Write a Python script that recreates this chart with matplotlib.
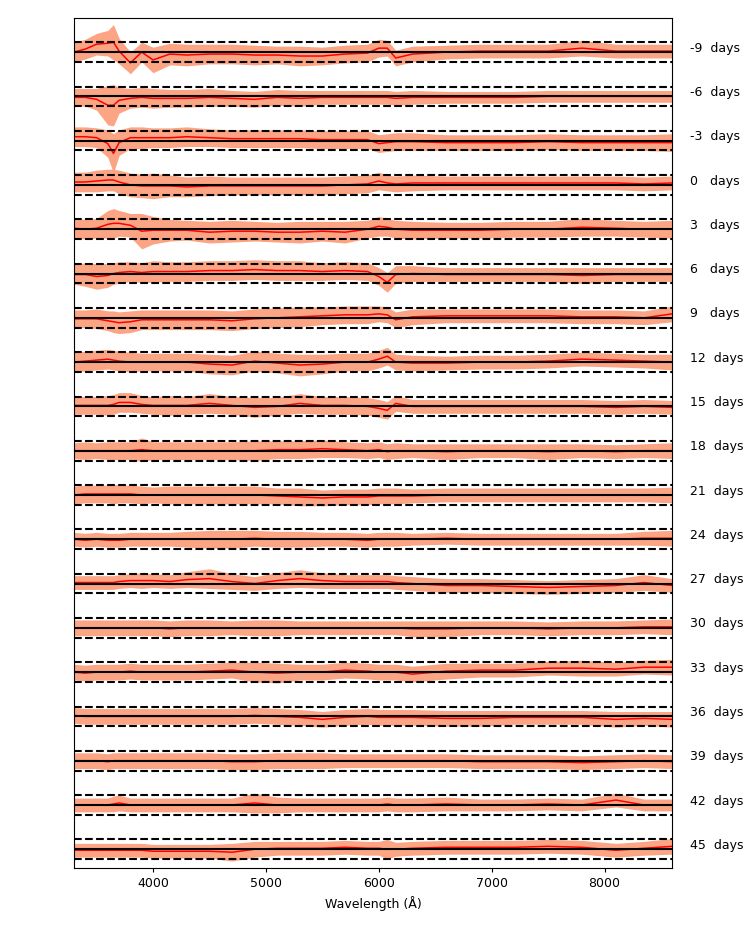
import numpy as np
import matplotlib
matplotlib.use("Agg")
import matplotlib.pyplot as plt

# wavelength grid (Angstrom) shared by every epoch
wave = [3300, 3400, 3500, 3600, 3650, 3700, 3800, 3900, 4000, 4150, 4300,
        4500, 4700, 4900, 5100, 5300, 5500, 5700, 5900, 6000, 6075, 6150,
        6300, 6600, 6900, 7200, 7500, 7800, 8100, 8350, 8600]

phases = [-9, -6, -3, 0, 3, 6, 9, 12, 15, 18, 21, 24, 27, 30, 33, 36, 39, 42, 45]

# residual (red line), in units of the dashed +/-1 band
resid = [
    [0.0, 0.3, 0.8, 0.9, 1.0, 0.1, -1.1, 0.0, -0.8, -0.2, -0.3, -0.2, -0.2, -0.3, -0.3, -0.4, -0.4, -0.2, -0.1, 0.4, 0.4, -0.6, -0.2, 0.0, 0.1, 0.1, 0.1, 0.4, 0.1, 0.1, 0.1],
    [-0.1, -0.1, -0.3, -0.9, -0.9, -0.4, -0.2, -0.1, -0.2, -0.2, -0.2, -0.1, -0.2, -0.3, -0.1, -0.2, -0.1, -0.1, -0.1, -0.1, -0.1, -0.2, -0.1, -0.1, -0.1, -0.1, 0.0, 0.0, 0.0, 0.0, 0.0],
    [0.4, 0.4, 0.3, -0.3, -1.3, -0.2, 0.3, 0.3, 0.3, 0.3, 0.4, 0.3, 0.2, 0.2, 0.2, 0.2, 0.1, 0.1, 0.1, -0.3, -0.2, -0.1, -0.1, -0.2, -0.2, -0.2, -0.1, -0.2, -0.2, -0.2, -0.2],
    [0.3, 0.3, 0.4, 0.5, 0.5, 0.3, 0.0, -0.1, -0.1, -0.1, -0.2, -0.1, -0.1, -0.1, -0.1, -0.1, -0.1, 0.0, 0.1, 0.4, 0.2, 0.1, 0.2, 0.2, 0.2, 0.2, 0.2, 0.2, 0.2, 0.1, 0.2],
    [0.1, 0.0, 0.1, 0.5, 0.6, 0.6, 0.4, -0.2, -0.1, -0.1, -0.1, -0.3, -0.2, -0.2, -0.3, -0.3, -0.2, -0.3, 0.0, 0.3, 0.2, 0.0, -0.1, -0.1, -0.1, 0.0, 0.0, 0.2, 0.1, 0.0, 0.0],
    [-0.1, -0.1, -0.3, -0.2, 0.0, 0.1, 0.2, 0.1, 0.2, 0.2, 0.2, 0.3, 0.3, 0.4, 0.3, 0.3, 0.2, 0.3, 0.2, -0.3, -0.9, -0.1, 0.0, -0.1, -0.1, -0.1, -0.1, -0.2, -0.1, -0.1, -0.1],
    [-0.1, -0.1, -0.1, -0.3, -0.4, -0.5, -0.4, -0.2, -0.2, -0.2, -0.2, -0.2, -0.3, -0.1, 0.0, 0.1, 0.2, 0.3, 0.3, 0.4, 0.3, -0.2, 0.1, 0.2, 0.2, 0.2, 0.2, 0.1, 0.1, 0.0, 0.4],
    [0.0, 0.1, 0.2, 0.3, 0.2, 0.1, 0.0, 0.0, 0.0, 0.0, 0.0, -0.2, -0.3, 0.1, -0.1, -0.3, -0.2, 0.0, 0.0, 0.3, 0.6, 0.0, -0.1, -0.1, 0.0, 0.0, 0.1, 0.3, 0.2, 0.1, 0.0],
    [0.1, 0.1, 0.1, 0.1, 0.2, 0.4, 0.4, 0.2, 0.1, 0.1, 0.1, 0.3, 0.1, -0.1, 0.0, 0.3, 0.1, 0.1, 0.0, -0.2, -0.4, 0.3, 0.0, 0.0, 0.0, 0.0, 0.0, 0.0, -0.1, 0.0, -0.1],
    [0.0, 0.0, 0.0, 0.0, 0.0, 0.0, 0.0, 0.1, 0.0, 0.0, 0.0, 0.0, 0.0, 0.0, 0.1, 0.1, 0.2, 0.1, 0.0, 0.1, -0.1, 0.0, 0.0, -0.1, 0.0, 0.0, -0.1, 0.0, -0.1, 0.0, 0.0],
    [0.0, 0.1, 0.1, 0.1, 0.1, 0.1, 0.1, 0.0, 0.0, 0.0, 0.0, 0.0, 0.0, 0.0, -0.1, -0.2, -0.3, -0.2, -0.2, -0.1, -0.1, -0.1, -0.1, 0.0, 0.0, 0.0, 0.0, 0.0, 0.0, 0.0, 0.0],
    [0.0, -0.1, 0.0, -0.1, -0.1, -0.1, 0.0, 0.0, 0.0, 0.0, 0.0, 0.0, 0.0, 0.1, 0.0, 0.0, 0.0, 0.0, -0.1, 0.0, 0.0, 0.0, 0.0, 0.1, 0.0, 0.0, 0.0, 0.0, 0.0, 0.1, 0.1],
    [0.1, 0.1, 0.1, 0.1, 0.1, 0.2, 0.3, 0.3, 0.3, 0.2, 0.4, 0.5, 0.2, 0.0, 0.3, 0.5, 0.3, 0.2, 0.2, 0.2, 0.2, 0.1, 0.0, -0.2, -0.2, -0.3, -0.4, -0.3, -0.2, 0.1, -0.2],
    [0.0, 0.0, 0.0, 0.0, 0.0, 0.0, 0.0, 0.0, 0.0, -0.1, 0.0, 0.0, 0.0, 0.0, 0.0, 0.0, 0.0, 0.0, 0.0, 0.0, 0.0, 0.0, -0.1, -0.1, 0.0, 0.0, -0.1, 0.0, 0.0, 0.1, 0.1],
    [0.0, -0.1, 0.0, 0.0, 0.0, 0.0, 0.1, 0.0, 0.0, 0.0, 0.0, 0.1, 0.2, 0.0, -0.1, 0.0, 0.0, 0.2, 0.1, 0.0, 0.0, 0.0, -0.2, 0.1, 0.2, 0.2, 0.4, 0.4, 0.3, 0.5, 0.5],
    [0.1, 0.0, 0.0, 0.0, 0.0, 0.0, 0.0, 0.0, 0.0, 0.0, 0.0, 0.0, 0.0, 0.1, 0.0, -0.1, -0.3, -0.1, 0.0, -0.1, -0.1, -0.1, -0.1, -0.2, -0.2, -0.1, -0.1, -0.1, -0.3, -0.2, -0.3],
    [0.0, 0.0, 0.0, -0.1, 0.0, 0.0, 0.0, 0.0, 0.0, 0.0, 0.0, 0.0, -0.1, -0.1, 0.0, 0.0, 0.0, 0.0, 0.0, 0.0, 0.0, 0.0, 0.0, 0.0, -0.1, -0.1, -0.1, -0.2, -0.1, 0.0, -0.1],
    [0.0, 0.0, 0.0, 0.0, 0.1, 0.2, 0.0, 0.0, 0.0, 0.0, 0.0, 0.0, 0.0, 0.2, 0.0, 0.0, 0.0, 0.0, 0.0, 0.0, 0.1, 0.0, 0.0, 0.1, 0.0, 0.0, 0.1, 0.0, 0.5, 0.0, 0.0],
    [-0.1, -0.1, -0.1, -0.1, -0.1, -0.1, -0.1, -0.1, -0.2, -0.2, -0.2, -0.2, -0.3, 0.0, 0.1, 0.1, 0.1, 0.2, 0.1, 0.1, 0.0, 0.0, 0.1, 0.2, 0.2, 0.2, 0.3, 0.2, -0.1, 0.1, 0.3],
]

# half width of the shaded spread around the residual
spread = [
    [1.0, 1.0, 1.1, 1.3, 1.8, 1.3, 1.1, 1.0, 1.3, 1.1, 1.1, 1.0, 1.0, 1.0, 0.9, 1.0, 0.9, 0.9, 0.9, 0.9, 0.8, 0.8, 0.8, 0.7, 0.7, 0.7, 0.7, 0.8, 0.7, 0.7, 0.7],
    [0.9, 0.9, 1.1, 2.0, 2.1, 1.3, 1.0, 1.0, 1.0, 0.9, 0.9, 0.9, 0.8, 0.8, 0.8, 0.8, 0.7, 0.7, 0.7, 0.7, 0.7, 0.7, 0.7, 0.6, 0.6, 0.6, 0.6, 0.6, 0.6, 0.6, 0.6],
    [1.0, 1.0, 1.0, 1.4, 2.0, 1.3, 1.1, 1.1, 1.0, 1.0, 1.0, 0.9, 0.9, 0.9, 0.9, 0.9, 0.9, 0.9, 0.9, 0.9, 0.9, 0.9, 0.9, 0.8, 0.8, 0.8, 0.8, 0.8, 0.8, 0.8, 0.9],
    [1.0, 1.0, 1.1, 1.1, 1.1, 1.2, 1.2, 1.2, 1.3, 1.1, 1.0, 1.0, 0.9, 0.9, 0.9, 0.9, 0.9, 0.9, 0.9, 0.9, 0.8, 0.8, 0.8, 0.7, 0.7, 0.7, 0.7, 0.7, 0.7, 0.7, 0.7],
    [1.0, 1.0, 1.0, 1.4, 1.5, 1.3, 1.2, 1.8, 1.4, 1.1, 1.0, 1.1, 1.1, 1.0, 1.0, 1.1, 1.0, 1.1, 0.9, 1.0, 0.9, 0.9, 0.9, 0.8, 0.8, 0.8, 0.8, 0.9, 0.8, 0.8, 0.9],
    [1.0, 1.2, 1.3, 1.2, 1.1, 1.1, 1.0, 1.0, 1.1, 1.0, 1.0, 1.0, 1.0, 1.0, 1.0, 1.0, 0.9, 0.9, 0.9, 0.9, 1.0, 0.9, 0.8, 0.7, 0.7, 0.7, 0.7, 0.8, 0.7, 0.7, 0.7],
    [0.9, 0.9, 1.0, 1.0, 1.1, 1.1, 1.1, 1.0, 1.0, 1.0, 1.0, 1.0, 1.0, 1.0, 1.0, 1.0, 0.9, 0.9, 0.9, 0.8, 0.8, 0.8, 0.8, 0.7, 0.7, 0.7, 0.7, 0.7, 0.7, 0.7, 0.8],
    [1.0, 1.0, 1.0, 1.0, 1.0, 1.0, 1.0, 0.9, 0.9, 0.9, 0.9, 1.0, 1.0, 1.0, 1.0, 1.1, 1.0, 0.9, 0.9, 0.9, 0.9, 0.8, 0.8, 0.7, 0.7, 0.7, 0.7, 0.7, 0.7, 0.7, 0.8],
    [0.9, 0.9, 0.9, 1.0, 1.0, 1.0, 1.0, 0.9, 0.9, 1.0, 0.9, 1.0, 0.9, 1.0, 0.9, 1.0, 0.9, 0.9, 0.9, 0.9, 0.9, 0.8, 0.7, 0.7, 0.7, 0.7, 0.7, 0.7, 0.7, 0.7, 0.7],
    [0.8, 0.9, 0.8, 0.9, 0.9, 0.9, 0.9, 1.2, 0.9, 0.9, 0.9, 0.9, 0.9, 1.0, 0.9, 0.9, 0.9, 0.8, 0.8, 0.8, 0.8, 0.8, 0.7, 0.8, 0.7, 0.7, 0.8, 0.7, 0.7, 0.7, 0.8],
    [0.9, 0.9, 0.9, 0.9, 1.0, 0.9, 0.9, 0.9, 0.8, 0.9, 0.9, 0.9, 0.9, 0.9, 0.8, 0.9, 0.8, 0.8, 0.8, 0.8, 0.8, 0.8, 0.7, 0.7, 0.7, 0.7, 0.7, 0.7, 0.7, 0.7, 0.8],
    [0.7, 0.7, 0.7, 0.7, 0.7, 0.7, 0.7, 0.7, 0.7, 0.7, 0.8, 0.9, 0.9, 0.8, 0.8, 0.8, 0.7, 0.7, 0.7, 0.7, 0.7, 0.7, 0.6, 0.6, 0.6, 0.6, 0.6, 0.6, 0.6, 0.7, 0.8],
    [0.7, 0.7, 0.7, 0.7, 0.7, 0.7, 0.7, 0.8, 0.7, 0.7, 0.8, 1.0, 0.8, 0.7, 0.8, 0.9, 0.8, 0.7, 0.7, 0.7, 0.7, 0.7, 0.7, 0.7, 0.7, 0.7, 0.7, 0.7, 0.7, 0.8, 0.7],
    [0.8, 0.8, 0.8, 0.8, 0.8, 0.8, 0.8, 0.8, 0.8, 0.8, 0.8, 0.8, 0.7, 0.8, 0.8, 0.7, 0.7, 0.7, 0.7, 0.7, 0.7, 0.7, 0.8, 0.8, 0.7, 0.7, 0.7, 0.7, 0.7, 0.7, 0.8],
    [0.8, 0.8, 0.8, 0.8, 0.8, 0.8, 0.8, 0.8, 0.8, 0.8, 0.8, 0.8, 0.8, 1.0, 1.0, 0.8, 0.8, 0.8, 0.8, 0.8, 0.8, 0.8, 0.8, 0.8, 0.7, 0.7, 0.7, 0.8, 0.7, 0.7, 0.8],
    [0.8, 0.8, 0.8, 0.8, 0.8, 0.8, 0.8, 0.8, 0.8, 0.8, 0.8, 0.8, 0.8, 0.8, 0.8, 0.8, 0.8, 0.8, 0.8, 0.8, 0.8, 0.8, 0.8, 0.8, 0.8, 0.7, 0.7, 0.7, 0.8, 0.7, 0.8],
    [0.8, 0.8, 0.8, 0.8, 0.8, 0.8, 0.8, 0.8, 0.8, 0.8, 0.8, 0.8, 0.8, 0.8, 0.8, 0.8, 0.8, 0.7, 0.7, 0.7, 0.7, 0.7, 0.7, 0.7, 0.7, 0.7, 0.7, 0.7, 0.7, 0.7, 0.7],
    [0.7, 0.7, 0.7, 0.7, 0.8, 0.8, 0.7, 0.7, 0.7, 0.7, 0.7, 0.7, 0.7, 1.0, 0.8, 0.7, 0.7, 0.7, 0.7, 0.7, 0.7, 0.7, 0.7, 0.7, 0.6, 0.6, 0.6, 0.6, 0.7, 0.6, 0.6],
    [0.7, 0.7, 0.7, 0.7, 0.7, 0.7, 0.7, 0.7, 0.7, 0.7, 0.7, 0.7, 0.9, 0.8, 0.7, 0.7, 0.7, 0.7, 0.7, 0.7, 1.0, 0.7, 0.7, 0.7, 0.7, 0.7, 0.7, 0.7, 0.7, 0.7, 0.8],
]

STEP = 4.5          # vertical offset between epochs
BAND_C = "#fca584"

plt.rcParams["font.size"] = 9
plt.rcParams["xtick.major.size"] = 3

fig = plt.figure(figsize=(7.47, 9.34), dpi=100)
ax = fig.add_axes([0.099, 0.0707, 0.801, 0.910])

w = np.array(wave)
for i, day in enumerate(phases):
    off = -i * STEP
    r = np.array(resid[i])
    s = np.array(spread[i])
    ax.fill_between(w, off + r - s, off + r + s, color=BAND_C, lw=0, zorder=1)
    ax.plot(w, off + r, color="red", lw=1.1, zorder=2)
    ax.axhline(off, color="black", lw=1.5, zorder=3)
    ax.axhline(off + 1, color="black", lw=1.5, ls="--", zorder=3)
    ax.axhline(off - 1, color="black", lw=1.5, ls="--", zorder=3)
    ax.text(1.03, off + 0.4, f"{day:<3} days", transform=ax.get_yaxis_transform(),
            va="center", ha="left", fontsize=9)

ax.set_xlim(3300, 8600)
ax.set_ylim(-(len(phases) - 1) * STEP - 1.9, 3.46)
ax.set_xticks([4000, 5000, 6000, 7000, 8000])
ax.set_yticks([])
ax.set_xlabel("Wavelength (Å)")

fig.savefig("out.png", dpi=100)
